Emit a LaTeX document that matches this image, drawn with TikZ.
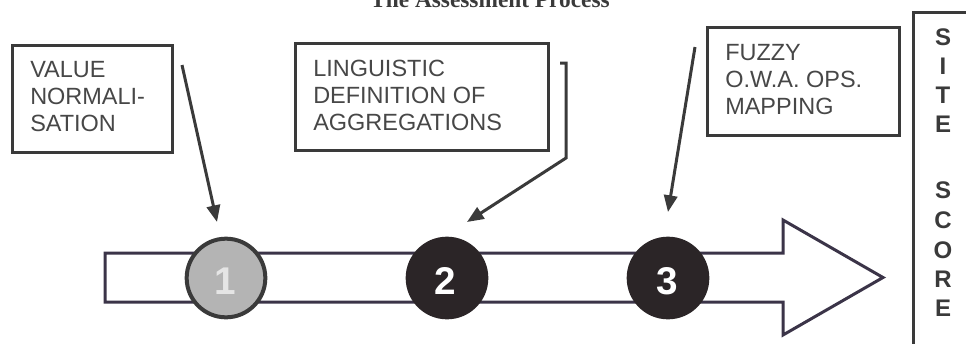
\documentclass[tikz,border=0pt]{standalone}
\usepackage{fontspec}
\setmainfont{Liberation Sans}
\newfontfamily\serifttl{Liberation Serif}
\usetikzlibrary{arrows.meta,fit}
\definecolor{ink}{HTML}{3A3A3A}
\definecolor{txt}{HTML}{474747}
\definecolor{barline}{HTML}{3B3448}
\definecolor{dot}{HTML}{2B2527}
\definecolor{dotgray}{HTML}{B4B4B4}
\newcommand\threelines[3]{\vtop{\hbox{#1}\hbox{#2}\hbox{#3}}}
\begin{document}
\begin{tikzpicture}[x=0.75pt,y=-0.75pt,
  tbox/.style={draw=ink, line width=2.25pt, inner sep=0pt},
  ttext/.style={anchor=base west, inner sep=0pt, text=txt, font=\fontsize{17.6}{20.25}\selectfont},
  pointer/.style={draw=ink, line width=2.25pt, -{Triangle[length=12.5pt,width=10pt]}},
  stepdot/.style={circle, minimum size=59pt, inner sep=0pt, line width=3pt, draw=dot, fill=dot},
  digit/.style={text=white, inner sep=0pt, font=\fontsize{29}{30}\selectfont\bfseries},
  scoreletter/.style={text=ink, inner sep=0pt, font=\fontsize{18}{20}\selectfont\bfseries},
  bar/.style={draw=barline, line width=2.25pt, fill=white, line join=miter}]
\useasboundingbox (0,0) rectangle (966,343);
% title
\node[anchor=base, inner sep=0pt, text=ink, font=\serifttl\fontsize{17.5}{19}\selectfont\bfseries] (title) at (490,7) {The Assessment Process};
% boxes
\coordinate (b1a) at (12,45);  \coordinate (b1b) at (172,152);
\coordinate (b2a) at (295,43); \coordinate (b2b) at (548,150);
\coordinate (b3a) at (707,27); \coordinate (b3b) at (899,135);
\node[tbox, fit=(b1a)(b1b)] (box1) {};
\node[tbox, fit=(b2a)(b2b)] (box2) {};
\node[tbox, fit=(b3a)(b3b)] (box3) {};
\node[ttext] (t1) at (30,77) {\threelines{VALUE}{NORMALI-}{SATION}};
\node[ttext] (t2) at (313,76) {\threelines{LINGUISTIC}{DEFINITION OF}{AGGREGATIONS}};
\node[ttext] (t3) at (725,60) {\threelines{FUZZY}{O.W.A. OPS.}{MAPPING}};
% big arrow
\draw[bar] (105,253) -- (783,253) -- (783,220) -- (883,277.5) -- (783,335) -- (783,302) -- (105,302) -- cycle;
% step circles
\node[stepdot, draw=ink, fill=dotgray] (s1) at (226,278) {};
\node[stepdot] (s2) at (447,278) {};
\node[stepdot] (s3) at (668,278) {};
\node[digit, text=white!90!black] (d1) at (225,281) {1};
\node[digit] (d2) at (445,281) {2};
\node[digit] (d3) at (667,281) {3};
% pointers
\coordinate (p1s) at (182,65);  \coordinate (p1e) at (217,222);
\draw[pointer] (p1s) -- (p1e);
\coordinate (p2s) at (560,63); \coordinate (p2m) at (566,63); \coordinate (p2c) at (566,158); \coordinate (p2e) at (467,222);
\draw[pointer, line join=miter] (p2s) -- (p2m) -- (p2c) -- (p2e);
\coordinate (p3s) at (695,47);  \coordinate (p3e) at (668,212);
\draw[pointer] (p3s) -- (p3e);
% site score
\coordinate (sc1) at (972,12); \coordinate (sc2) at (913,12); \coordinate (sc3) at (913,350);
\draw[ink, line width=2.25pt] (sc1) -- (sc2) -- (sc3);
\node[scoreletter] (l1) at (943,37) {S};
\node[scoreletter] (l2) at (943,66) {I};
\node[scoreletter] (l3) at (943,95) {T};
\node[scoreletter] (l4) at (943,124) {E};
\node[scoreletter] (l5) at (943,190) {S};
\node[scoreletter] (l6) at (943,220) {C};
\node[scoreletter] (l7) at (943,250) {O};
\node[scoreletter] (l8) at (943,279) {R};
\node[scoreletter] (l9) at (943,308) {E};
\end{tikzpicture}
\end{document}
